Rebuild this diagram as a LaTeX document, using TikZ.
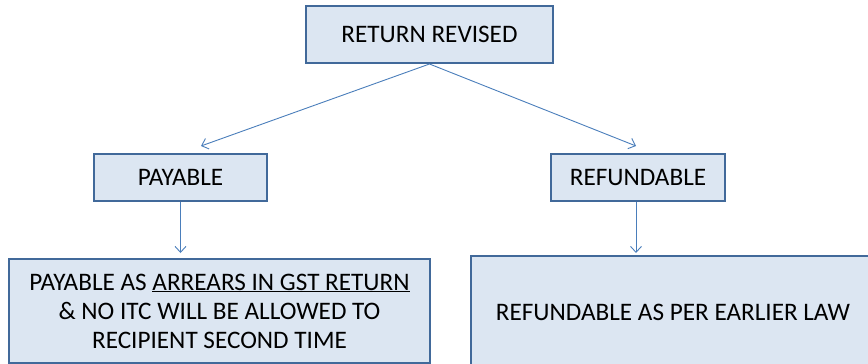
\documentclass[tikz,border=0pt]{standalone}
\usepackage{fontspec}
\setmainfont{Carlito}
\usetikzlibrary{arrows.meta}
\definecolor{boxfill}{HTML}{DCE6F2}
\definecolor{boxline}{HTML}{41699A}
\definecolor{arrowline}{HTML}{4A7EBB}
\begin{document}
\begin{tikzpicture}[x=1pt,y=-1pt,
  flowbox/.style={draw=boxline,fill=boxfill,line width=2pt,inner sep=0pt,
    font=\fontsize{25.2}{29}\selectfont,align=center},
  conn/.style={draw=arrowline,line width=0.9pt,-{Straight Barb[length=6pt,width=11pt,line width=0.9pt]}}]
\useasboundingbox (0,0) rectangle (868,364);
\begin{scope}
\clip (0,0) rectangle (868,364);
\node[flowbox,minimum width=247pt,minimum height=57pt] (top) at (429.5,34.5) {RETURN REVISED};
\node[flowbox,minimum width=173pt,minimum height=47pt] (pay) at (180.5,177.5) {PAYABLE};
\node[flowbox,minimum width=174pt,minimum height=47pt] (ref) at (638,177.5) {REFUNDABLE};
\node[flowbox,minimum width=421pt,minimum height=104pt] (payd) at (219.5,311) {PAYABLE AS \underline{ARREARS IN GST RETURN}\\\& NO ITC WILL BE ALLOWED TO\\RECIPIENT SECOND TIME};
\node[flowbox,minimum width=404pt,minimum height=112pt] (refd) at (673,312) {REFUNDABLE AS PER EARLIER LAW};
\coordinate (pl) at (201,146);
\coordinate (pr) at (636,146);
\draw[conn] (top.south) -- (pl);
\draw[conn] (top.south) -- (pr);
\draw[conn] (pay.south) -- (pay.south |- 0,253);
\draw[conn] (ref.south -| 636,0) -- (636,253);
\end{scope}
\end{tikzpicture}
\end{document}
